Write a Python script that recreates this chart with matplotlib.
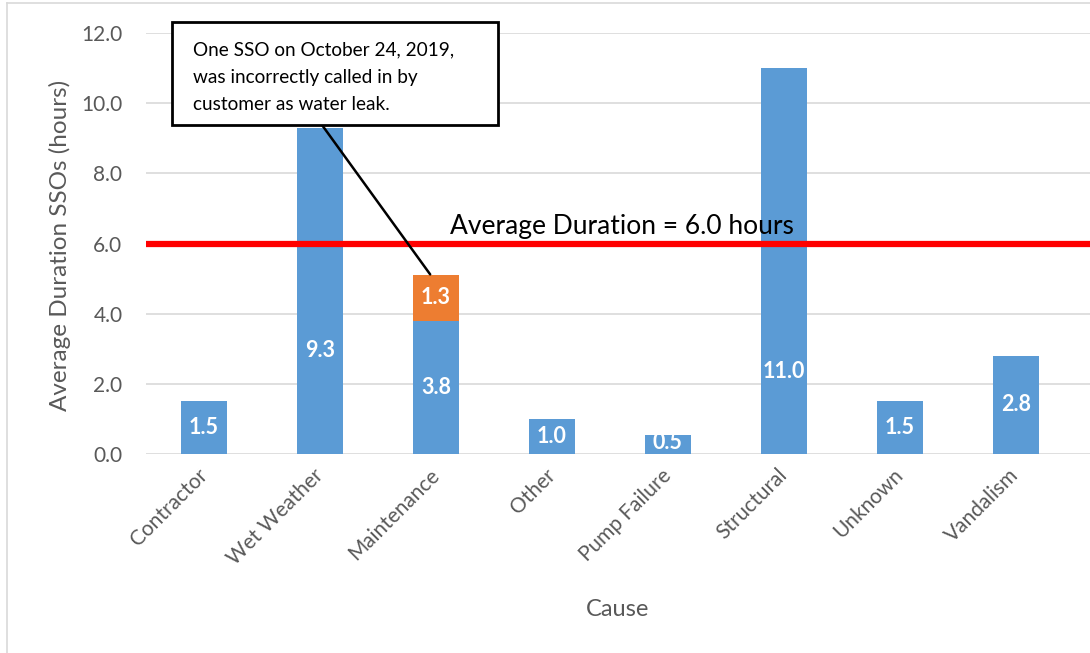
import matplotlib.pyplot as plt
from matplotlib.lines import Line2D
from matplotlib.patches import Rectangle
from matplotlib.transforms import ScaledTranslation

plt.rcParams['font.family'] = ['Lato', 'DejaVu Sans']

# data
causes = ['Contractor', 'Wet Weather', 'Maintenance', 'Other',
          'Pump Failure', 'Structural', 'Unknown', 'Vandalism']
durations = [1.5, 9.3, 3.8, 1.0, 0.55, 11.0, 1.5, 2.8]
duration_labels = ['1.5', '9.3', '3.8', '1.0', '0.5', '11.0', '1.5', '2.8']
extra = [0, 0, 1.3, 0, 0, 0, 0, 0]   # misreported SSO on top of Maintenance
extra_label = '1.3'
avg_duration = 6.0
note = 'One SSO on October 24, 2019,\nwas incorrectly called in by\ncustomer as water leak.'

blue = '#5B9BD5'
orange = '#ED7D31'
grey_txt = '#595959'

fig = plt.figure(figsize=(10.9, 6.53), dpi=100)
ax = fig.add_axes([0.134, 0.3047, 0.866, 0.6448])

x = list(range(len(causes)))
ax.bar(x, durations, width=0.4, color=blue, zorder=2)
ax.bar(x, extra, width=0.4, bottom=durations, color=orange, zorder=2)

# value labels (centre of bar, a couple pushed down below the red line)
for i, v in enumerate(durations):
    y = v / 2
    if causes[i] == 'Wet Weather':
        y = 2.95
    elif causes[i] == 'Structural':
        y = 2.35
    elif causes[i] == 'Pump Failure':
        y = 0.33
    ax.text(i, y, duration_labels[i], ha='center', va='center',
            color='white', fontsize=15.5, fontweight='bold', zorder=4)
    if extra[i]:
        ax.text(i, v + extra[i] / 2, extra_label, ha='center', va='center',
                color='white', fontsize=15.5, fontweight='bold', zorder=4)

ax.axhline(avg_duration, color='#FF0000', linewidth=4.5, zorder=3)
ax.text(3.6, avg_duration + 0.12, 'Average Duration = 6.0 hours',
        ha='center', va='bottom', fontsize=19, color='black', zorder=4)

ax.set_xlim(-0.5, 7.64)
ax.set_ylim(0, 12)
ax.set_yticks([0, 2, 4, 6, 8, 10, 12])
ax.set_yticklabels([f'{v:.1f}' for v in [0, 2, 4, 6, 8, 10, 12]])
ax.set_xticks(x)
ax.set_xticklabels(causes, rotation=45, ha='right', rotation_mode='anchor')
ax.tick_params(axis='both', length=0, labelsize=15, labelcolor=grey_txt)
ax.tick_params(axis='y', pad=17)
ax.tick_params(axis='x', pad=8)
shift = ScaledTranslation(-7 / 100, 0, fig.dpi_scale_trans)
for lbl in ax.get_xticklabels():
    lbl.set_transform(lbl.get_transform() + shift)
ax.grid(axis='y', color='#D9D9D9', linewidth=1.2, zorder=0)
for s in ax.spines.values():
    s.set_visible(False)

ax.set_ylabel('Average Duration SSOs (hours)', fontsize=17.5, color=grey_txt)
ax.yaxis.set_label_coords(-0.08, 0.496)
ax.set_xlabel('Cause', fontsize=17, color=grey_txt, labelpad=22)

# callout box with leader line to the orange segment
W, H = 1090, 653
fig.add_artist(Rectangle((172 / W, 1 - 125 / H), 326 / W, 103 / H,
                         transform=fig.transFigure, fc='white', ec='black',
                         lw=2, zorder=5))
fig.text(193 / W, 1 - 41 / H, note, ha='left', va='top', fontsize=13.7,
         linespacing=1.75, zorder=6)
ax.annotate('', xy=(1.95, 5.12), xycoords='data',
            xytext=(322 / W, 1 - 125 / H), textcoords='figure fraction',
            arrowprops=dict(arrowstyle='-', color='black', lw=1.8,
                            shrinkA=0, shrinkB=0), zorder=5)

# outer frame of the chart area
fig.add_artist(Line2D([7 / W, 7 / W], [0, 1 - 3 / H], color='#D9D9D9', lw=1.2))
fig.add_artist(Line2D([7 / W, 1], [1 - 3 / H, 1 - 3 / H], color='#D9D9D9', lw=1.2))

fig.savefig('out.png', dpi=100)
